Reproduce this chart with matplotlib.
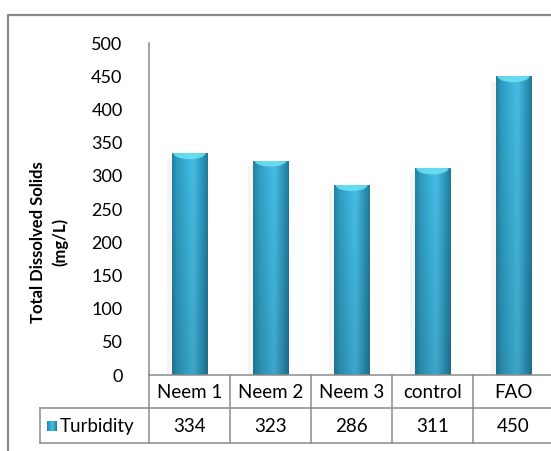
import numpy as np
import matplotlib.pyplot as plt
from matplotlib.patches import Rectangle, Ellipse
from matplotlib.colors import LinearSegmentedColormap

categories = ['Neem 1', 'Neem 2', 'Neem 3', 'control', 'FAO']
turbidity = [334, 323, 286, 311, 450]
series_name = 'Turbidity'
yticks = [0, 50, 100, 150, 200, 250, 300, 350, 400, 450, 500]

plt.rcParams['font.family'] = ['Lato', 'DejaVu Sans']

W, H = 551, 451
fig = plt.figure(figsize=(W / 100, H / 100), dpi=100)

def fx(px):
    return px / W

def fy(py):
    return 1 - py / H

# plot area in pixels: y axis at x=149, y=0 at 375, y=500 at 43, 81px per category
left, bottom, top, cat_w = 149, 375, 43, 81
ax = fig.add_axes([fx(left), fy(bottom), 5 * cat_w / W, (bottom - top) / H])
ax.set_xlim(-0.5, 4.5)
ax.set_ylim(0, 500)

grey = '#8c8c8c'
cmap = LinearSegmentedColormap.from_list('cyl', [
    (0.0, '#25809f'), (0.15, '#2e9cc0'), (0.45, '#3cb4dc'),
    (0.6, '#49bce3'), (0.8, '#2f9ec4'), (1.0, '#237a98')])

x = np.arange(len(categories))
bars = ax.bar(x, turbidity, width=0.44, color='#36a9d0', zorder=2)
for b in bars:
    x0, w, h = b.get_x(), b.get_width(), b.get_height()
    # faint shadow to the left
    ax.add_patch(Rectangle((x0 - 0.06, 0), 0.07, h - 8, color='#f5f5f5', zorder=1, lw=0))
    g = np.linspace(0, 1, 64)[None, :]
    shade = np.linspace(0.0, 1.0, 40)[:, None]
    rgba = cmap(np.repeat(g, 40, axis=0))
    rgba[..., :3] *= (0.88 + 0.12 * shade)[..., None]
    im = ax.imshow(rgba, extent=[x0, x0 + w, 0, h], aspect='auto', origin='lower', zorder=3)
    im.set_clip_path(b)
    cap = Ellipse((x0 + w / 2, h), w * 0.9, 18, color='#6fe2f2', alpha=0.85, zorder=4, lw=0)
    ax.add_patch(cap)
    cap.set_clip_path(b)
ax.set_xlim(-0.5, 4.5)
ax.set_ylim(0, 500)

for s in ['top', 'right', 'bottom']:
    ax.spines[s].set_visible(False)
ax.spines['left'].set_color(grey)
ax.spines['left'].set_linewidth(1.1)
ax.set_xticks([])
ax.set_yticks(yticks)
ax.tick_params(axis='y', length=0, pad=19, labelsize=13)

fig.text(fx(38), fy(242), 'Total Dissolved Solids', rotation=90, ha='center', va='center',
         fontsize=12, fontweight='bold')
fig.text(fx(60), fy(242), '(mg/L)', rotation=90, ha='center', va='center',
         fontsize=12, fontweight='bold')

# data table under the axis
row1, row2, row3 = 375, 408, 443
tleft = 40
lines = [
    ([left, W + 10], [row1, row1]),
    ([tleft, W + 10], [row2, row2]),
    ([tleft, W + 10], [row3, row3]),
    ([tleft, tleft], [row2, row3]),
    ([left, left], [row1, row3]),
]
for i in range(1, len(categories) + 1):
    xb = left + i * cat_w
    lines.append(([xb, xb], [row1, row3]))
for xs, ys in lines:
    fig.add_artist(plt.Line2D([fx(v) for v in xs], [fy(v) for v in ys], color=grey, lw=1.1))

for i, (c, v) in enumerate(zip(categories, turbidity)):
    cx = left + (i + 0.5) * cat_w
    fig.text(fx(cx), fy((row1 + row2) / 2 + 1), c, ha='center', va='center', fontsize=13.5)
    fig.text(fx(cx), fy((row2 + row3) / 2 + 1), str(v), ha='center', va='center', fontsize=13.5)

key = np.repeat(np.linspace(0, 1, 16)[None, :], 16, axis=0)
kax = fig.add_axes([fx(47), fy(431), 10 / W, 10 / H])
kax.imshow(cmap(key), aspect='auto')
kax.axis('off')
fig.text(fx(60), fy((row2 + row3) / 2 + 1), series_name, ha='left', va='center', fontsize=13.5)

# outer chart frame (cropped at right and bottom)
fig.add_artist(plt.Line2D([fx(7.5), fx(7.5), 1.05], [-0.05, fy(14.5), fy(14.5)], color='#8a8a8a', lw=1.6))

fig.savefig('out.png', dpi=100)
